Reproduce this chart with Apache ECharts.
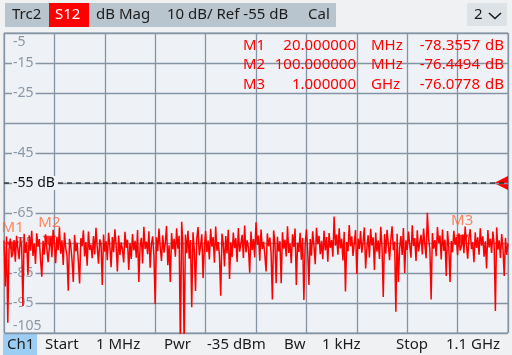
<!DOCTYPE html>
<html>
<head>
<meta charset="utf-8">
<script src="https://cdn.jsdelivr.net/npm/echarts@6/dist/echarts.min.js"></script>
<style>
  html, body { margin: 0; padding: 0; background: #eff1f3; }
  #chart { width: 512px; height: 355px; }
</style>
</head>
<body>
<div id="chart"></div>
<script>
// sweep setup (MHz)
var sweepStart = 1;
var sweepStop = 1100;

// S12 trace, dB, 401 sweep points
var traceDb = [
  -74.2, -89.5, -72.8, -101.6, -77.1, -73.5, -79.8, -78.4, -74.0, -81.2, -72.6, -76.9, -80.4, -73.1, -75.8, -96.0, -71.9, -78.3, -74.6, -85.7,
  -72.4, -77.6, -70.9, -79.3, -75.1, -82.0, -71.8, -76.2, -73.7, -80.6, -86.2, -74.3, -78.9, -72.1, -76.8, -81.4, -76.4, -73.2, -79.7, -70.6,
  -75.3, -81.7, -72.9, -77.4, -69.8, -78.6, -74.1, -82.3, -71.5, -76.7, -79.2, -90.9, -73.6, -75.9, -80.8, -88.0, -72.3, -77.8, -74.9, -81.1,
  -88.5, -73.4, -76.1, -70.8, -79.5, -74.7, -82.6, -71.2, -77.3, -75.6, -80.1, -72.7, -78.8, -69.9, -76.5, -81.9, -73.8, -75.2, -89.0, -72.2,
  -77.9, -74.4, -80.7, -71.6, -76.0, -83.1, -73.0, -78.1, -70.4, -75.7, -84.5, -72.5, -79.0, -74.8, -77.2, -81.5, -71.3, -76.6, -73.9, -84.0,
  -75.0, -80.3, -72.0, -77.5, -74.3, -79.9, -70.7, -88.0, -76.3, -73.3, -81.8, -69.6, -77.0, -74.5, -78.7, -71.1, -83.2, -75.4, -72.8, -79.4,
  -95.3, -73.1, -77.7, -70.2, -76.4, -81.0, -72.4, -78.2, -74.9, -69.3, -82.4, -75.8, -88.0, -71.7, -77.1, -73.6, -79.6, -70.1, -76.9, -72.6,
  -110.0, -67.9, -75.5, -110.0, -72.2, -78.4, -70.9, -80.2, -74.0, -96.4, -71.4, -77.3, -91.0, -73.5, -69.7, -79.1, -75.9, -72.1, -86.7, -76.8,
  -71.0, -78.0, -74.2, -80.5, -70.3, -76.2, -73.0, -81.6, -69.5, -77.6, -74.7, -79.3, -92.6, -71.9, -75.1, -82.8, -72.7, -78.5, -70.6, -87.0,
  -74.8, -79.7, -71.5, -76.7, -73.4, -81.3, -70.0, -77.9, -75.3, -72.3, -80.0, -69.2, -78.1, -74.1, -76.5, -84.9, -71.2, -77.4, -73.7, -79.8,
  -68.1, -75.6, -72.5, -80.9, -70.5, -77.0, -74.6, -79.0, -84.5, -71.8, -76.1, -73.2, -78.6, -93.8, -70.8, -75.0, -88.4, -72.9, -77.8, -74.4,
  -88.4, -71.4, -76.9, -73.9, -79.5, -69.4, -78.3, -75.2, -81.7, -72.1, -76.3, -70.2, -89.0, -74.9, -78.0, -71.6, -80.6, -73.3, -94.0, -75.7,
  -70.4, -77.2, -89.0, -73.7, -79.2, -71.1, -76.0, -82.1, -69.9, -75.4, -72.6, -78.7, -74.3, -80.4, -70.9, -77.5, -73.0, -81.2, -71.7, -76.6,
  -74.0, -79.6, -66.2, -75.9, -72.2, -78.9, -70.1, -76.8, -73.6, -80.8, -71.3, -91.2, -74.7, -77.7, -69.0, -76.1, -72.8, -79.3, -75.1, -70.7,
  -85.3, -73.5, -77.0, -71.0, -78.2, -74.6, -69.8, -83.5, -76.4, -72.4, -79.8, -70.3, -75.8, -73.1, -84.0, -71.5, -77.9, -74.2, -80.3, -69.6,
  -76.2, -93.0, -72.0, -78.6, -70.6, -75.3, -80.7, -73.8, -69.4, -77.4, -74.5, -97.9, -71.9, -88.0, -76.7, -72.7, -79.0, -70.0, -85.0, -74.1,
  -77.3, -71.2, -75.7, -79.9, -69.1, -76.0, -73.4, -81.0, -70.8, -77.8, -74.8, -72.3, -78.8, -70.2, -75.5, -80.1, -64.9, -73.7, -77.1, -93.8,
  -71.7, -76.9, -74.0, -79.4, -69.7, -75.0, -72.5, -80.5, -70.5, -77.6, -73.9, -86.0, -71.0, -76.3, -88.0, -74.3, -78.1, -70.9, -75.6, -73.0,
  -79.1, -71.8, -77.5, -76.1, -72.2, -78.4, -69.5, -75.2, -80.2, -73.4, -70.4, -77.0, -74.7, -81.4, -71.4, -76.6, -73.1, -78.9, -70.1, -75.9,
  -72.8, -79.6, -74.4, -83.5, -70.7, -76.5, -73.6, -78.3, -71.2, -75.4, -97.7, -69.8, -77.2, -74.1, -80.0, -72.0, -76.8, -86.0, -73.3, -79.0,
  -75.1
];

// markers
var markerNames = ["M1", "M2", "M3"];
var markerFreq = [20, 100, 1000];
var markerDb = [-78.3557, -76.4494, -76.0778];
var markerFreqText = ["20.000000", "100.000000", "1.000000"];
var markerUnit = ["MHz", "MHz", "GHz"];
var markerDbText = ["-78.3557", "-76.4494", "-76.0778"];

// y axis scale
var yMin = -105;
var yMax = -5;
var yStep = 10;
var refLevel = -55;
var hiddenTick = -35; // not labelled on the screen

var myChart = echarts.init(document.getElementById("chart"));

var step = (sweepStop - sweepStart) / (traceDb.length - 1);
var traceData = traceDb.map(function(v, i) {
  return [sweepStart + i * step, v];
});
var markerData = markerFreq.map(function(f, i) {
  return { value: [f, markerDb[i]], name: markerNames[i] };
});
var refData = [[sweepStart, refLevel], [sweepStop, refLevel]];

var font = "Noto Sans";
var textDark = "#1c1c1c";
var plotBg = "#eef2f6";
var gridColor = "#8494a4";
var labelGray = "#8a97a5";

// header / footer / marker table
var graphics = [
  { type: "rect", shape: { x: 5, y: 3, width: 331, height: 24 }, style: { fill: "#b9c5ce" } },
  { type: "rect", shape: { x: 49, y: 3, width: 40, height: 24 }, style: { fill: "#ff0000" } },
  { type: "rect", shape: { x: 467, y: 3, width: 40, height: 23 }, style: { fill: "#dde2e6" } },
  { type: "rect", shape: { x: 3, y: 334, width: 34, height: 21 }, style: { fill: "#9ccdf3" } }
];
var headerTexts = [
  ["Trc2", 12, textDark],
  ["S12", 55, "#ffffff"],
  ["dB Mag", 96, textDark],
  ["10 dB/ Ref -55 dB", 167, textDark],
  ["Cal", 308, textDark],
  ["2", 474, textDark]
];
headerTexts.forEach(function(t) {
  graphics.push({
    type: "text", x: t[1], y: 15,
    style: { text: t[0], fill: t[2], font: "15px " + font, verticalAlign: "middle" }
  });
});
graphics.push({
  type: "polyline",
  shape: { points: [[489, 13], [495, 18.5], [501, 13]] },
  style: { stroke: textDark, lineWidth: 1.6, fill: null }
});
var footerTexts = [
  ["Ch1", 7], ["Start", 45], ["1 MHz", 96], ["Pwr", 164], ["-35 dBm", 207],
  ["Bw", 284], ["1 kHz", 322], ["Stop", 396], ["1.1 GHz", 446]
];
footerTexts.forEach(function(t) {
  graphics.push({
    type: "text", x: t[1], y: 345,
    style: { text: t[0], fill: textDark, font: "15px " + font, verticalAlign: "middle" }
  });
});
var rowY = [46, 65, 85];
markerNames.forEach(function(n, i) {
  var st = function(txt, x, align) {
    return {
      type: "text", x: x, y: rowY[i], z: 100,
      style: { text: txt, fill: "#ff0000", font: "15px " + font, verticalAlign: "middle", align: align }
    };
  };
  graphics.push(st(n, 243, "left"));
  graphics.push(st(markerFreqText[i], 356, "right"));
  graphics.push(st(markerUnit[i], 371, "left"));
  graphics.push(st(markerDbText[i], 480, "right"));
  graphics.push(st("dB", 485, "left"));
});

var option = {
  animation: false,
  backgroundColor: "#eff1f3",
  graphic: graphics,
  grid: {
    left: 4, right: 4, top: 33, bottom: 22,
    show: true, backgroundColor: plotBg,
    borderColor: gridColor, borderWidth: 1
  },
  xAxis: [
    {
      type: "value", min: sweepStart, max: sweepStop,
      axisLine: { show: false }, axisTick: { show: false },
      axisLabel: { show: false }, splitLine: { show: false }
    },
    {
      // 10 divisions for the graticule
      type: "value", min: 0, max: 10, interval: 1,
      axisLine: { show: false }, axisTick: { show: false },
      axisLabel: { show: false },
      splitLine: { lineStyle: { color: gridColor, width: 1.3 } }
    }
  ],
  yAxis: [
    {
      type: "value", min: yMin, max: yMax, interval: yStep,
      z: 8,
      axisLine: { show: false }, axisTick: { show: false },
      splitLine: { lineStyle: { color: gridColor, width: 1.3 } },
      axisLabel: {
        inside: true, margin: 8,
        color: labelGray, fontFamily: font, fontSize: 14,
        backgroundColor: plotBg, padding: [0, 2, 0, 1],
        formatter: function(v) {
          if (v === hiddenTick || v === yMin || v === yMax || v === refLevel) return "";
          return v;
        }
      }
    },
    {
      // end labels inside the plot and the reference level label
      type: "value", min: yMin, max: yMax, interval: yStep, position: "left",
      z: 12,
      axisLine: { show: false }, axisTick: { show: false },
      splitLine: { show: false },
      axisLabel: {
        inside: true, margin: 8,
        color: labelGray, fontFamily: font, fontSize: 14,
        formatter: function(v) {
          if (v === yMax) return "{t|" + v + "}";
          if (v === yMin) return "{b|" + v + "}";
          if (v === refLevel) return "{ref|" + v + " dB}";
          return "";
        },
        rich: {
          t: { color: labelGray, fontFamily: font, fontSize: 14, lineHeight: 16, padding: [19, 0, 0, 1] },
          b: { color: labelGray, fontFamily: font, fontSize: 14, lineHeight: 16, padding: [0, 0, 14, 1] },
          ref: { color: "#111111", fontFamily: font, fontSize: 14, lineHeight: 16,
                 backgroundColor: plotBg, padding: [0, 3, 0, 1] }
        }
      }
    }
  ],
  series: [
    {
      // reference level line with its arrow at the right edge
      type: "line",
      data: refData,
      symbol: "none",
      silent: true,
      lineStyle: { color: "#000000", type: [5, 4], width: 1.2 },
      z: 10,
      markPoint: {
        silent: true,
        symbol: "triangle",
        symbolSize: [14, 14],
        symbolRotate: 90,
        symbolOffset: [-7, 0],
        itemStyle: { color: "#ff0000" },
        label: { show: false },
        data: [{ coord: [sweepStop, refLevel] }]
      }
    },
    {
      type: "line",
      data: traceData,
      symbol: "none",
      clip: true,
      lineStyle: { color: "#ff0000", width: 1.5 },
      z: 11
    },
    {
      type: "scatter",
      data: markerData,
      symbol: "triangle",
      symbolRotate: 180,
      symbolSize: [13, 11],
      symbolOffset: [0, -6],
      itemStyle: { color: "#ff0000" },
      z: 13,
      label: {
        show: true,
        position: "top",
        distance: 6,
        formatter: "{b}",
        color: "#ff6a3a",
        fontFamily: font,
        fontSize: 15
      }
    }
  ]
};
myChart.setOption(option);
</script>
</body>
</html>
